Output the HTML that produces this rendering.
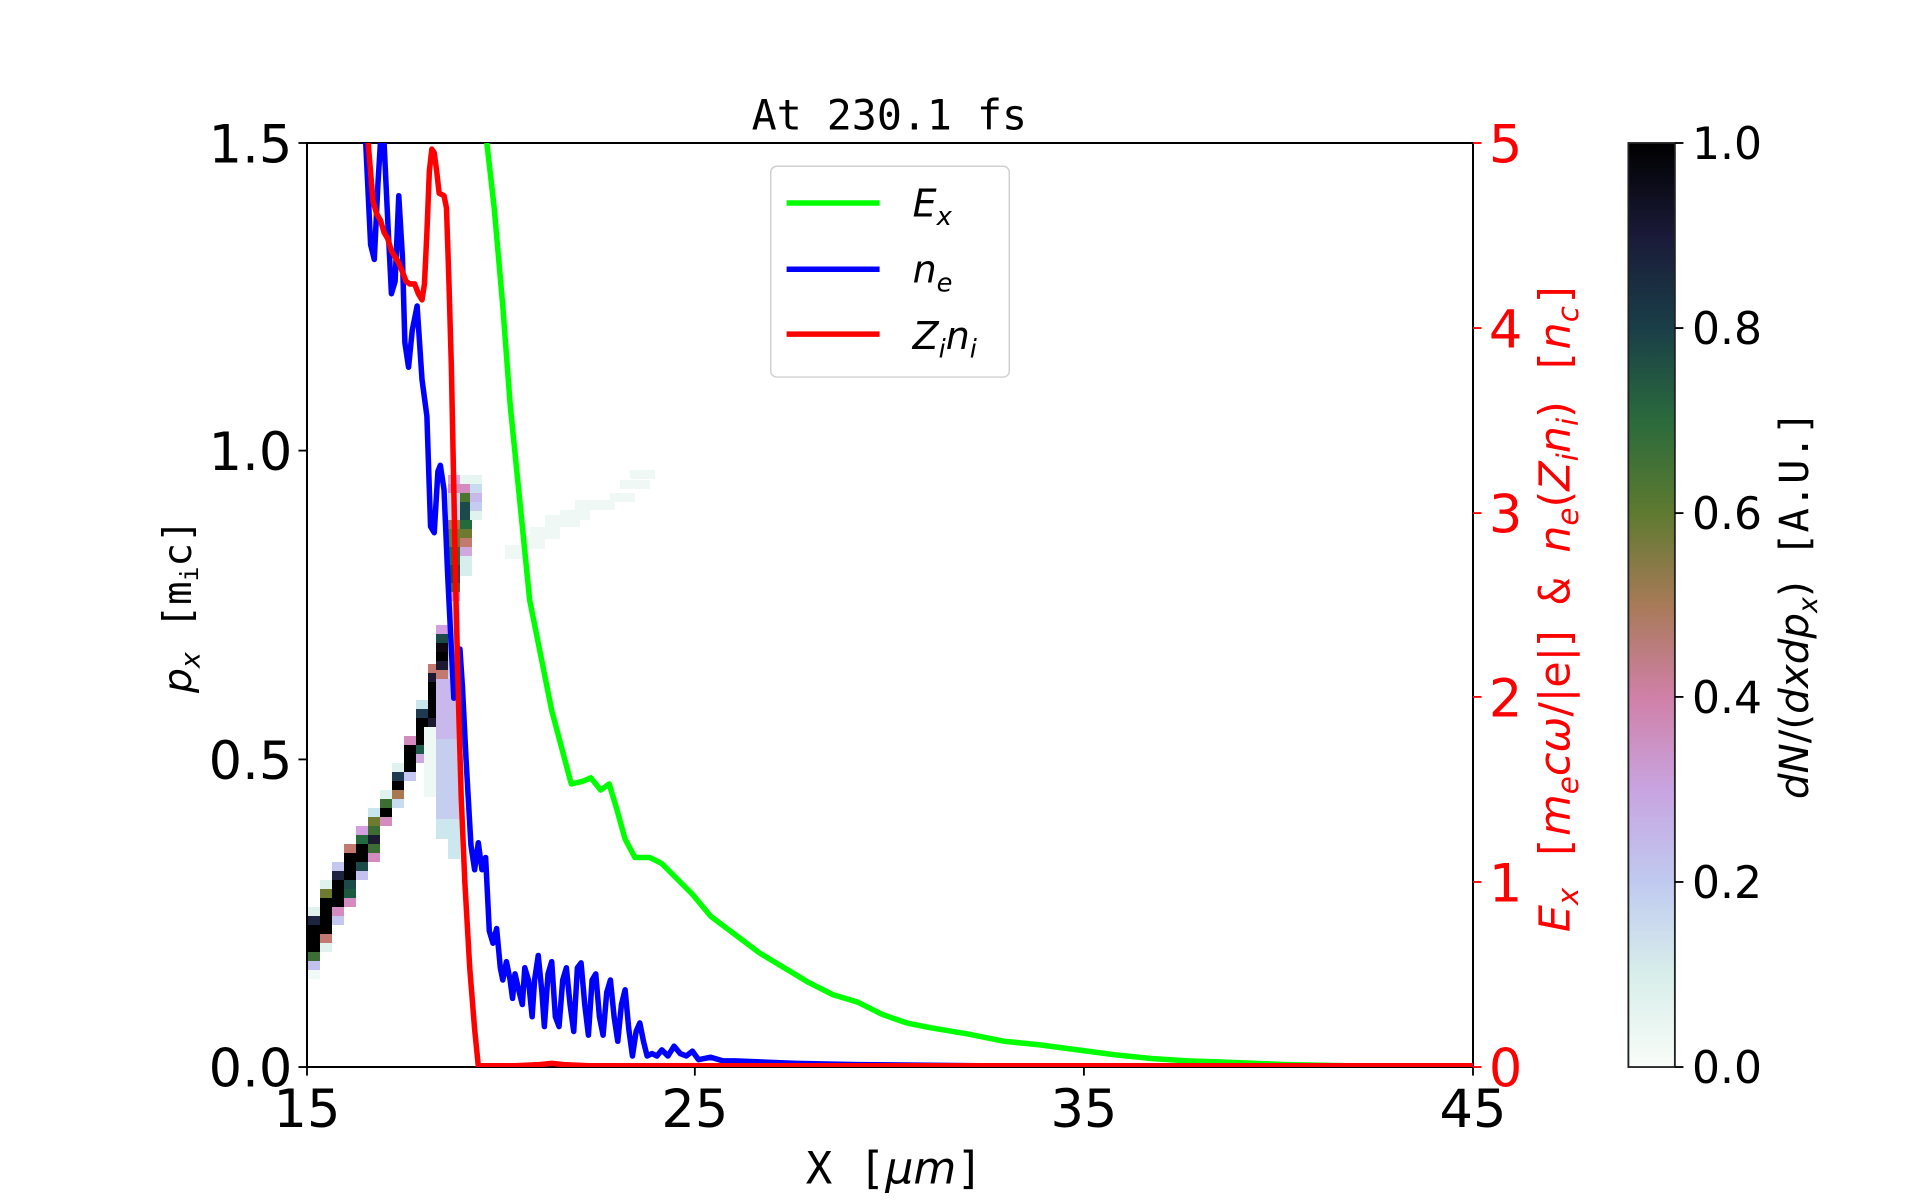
<!DOCTYPE html>
<html><head><meta charset="utf-8"><style>
html,body{margin:0;padding:0;background:#fff;}
svg{display:block;}
text{font-family:"DejaVu Sans","Liberation Sans",sans-serif;}
.m{font-family:"DejaVu Sans Mono","Liberation Mono",monospace;}
</style></head><body>
<svg width="1920" height="1200" viewBox="0 0 1920 1200" xmlns="http://www.w3.org/2000/svg">
<defs>
<linearGradient id="cb" x1="0" y1="1" x2="0" y2="0">
<stop offset="0" stop-color="#f8fcf8"/>
<stop offset="0.1" stop-color="#d8eeea"/>
<stop offset="0.2" stop-color="#c0caf0"/>
<stop offset="0.3" stop-color="#c8a4e0"/>
<stop offset="0.4" stop-color="#d080a8"/>
<stop offset="0.5" stop-color="#a87a58"/>
<stop offset="0.6" stop-color="#5e7a30"/>
<stop offset="0.7" stop-color="#2a6a3c"/>
<stop offset="0.8" stop-color="#1a3e48"/>
<stop offset="0.9" stop-color="#1a1a38"/>
<stop offset="1" stop-color="#000000"/>
</linearGradient>
<clipPath id="pc"><rect x="307" y="143" width="1166" height="924"/></clipPath>
</defs>

<g clip-path="url(#pc)">
<g>
<rect x="308" y="907" width="12" height="9" fill="#e0f2ee"/><rect x="308" y="916" width="12" height="9" fill="#1c2440"/><rect x="308" y="925" width="12" height="27" fill="#000"/><rect x="308" y="952" width="12" height="9" fill="#3a6e34"/><rect x="308" y="961" width="12" height="9" fill="#c4c0f0"/><rect x="308" y="970" width="12" height="9" fill="#f2faf8"/>
<rect x="320" y="880" width="12" height="9" fill="#e0f2ee"/><rect x="320" y="889" width="12" height="9" fill="#6e7a30"/><rect x="320" y="898" width="12" height="36" fill="#000"/><rect x="320" y="934" width="12" height="9" fill="#c27a70"/><rect x="320" y="943" width="12" height="9" fill="#e0f2ee"/>
<rect x="332" y="862" width="12" height="9" fill="#c4c8f0"/><rect x="332" y="871" width="12" height="9" fill="#1c2440"/><rect x="332" y="880" width="12" height="27" fill="#000"/><rect x="332" y="907" width="12" height="9" fill="#d48cc0"/><rect x="332" y="916" width="12" height="9" fill="#c4c8f0"/>
<rect x="344" y="844" width="12" height="9" fill="#c27a70"/><rect x="344" y="853" width="12" height="27" fill="#000"/><rect x="344" y="880" width="12" height="9" fill="#1c4a48"/><rect x="344" y="889" width="12" height="9" fill="#1c5a40"/><rect x="344" y="898" width="12" height="9" fill="#d48cc0"/>
<rect x="356" y="826" width="12" height="9" fill="#d4a0e0"/><rect x="356" y="835" width="12" height="9" fill="#246a3c"/><rect x="356" y="844" width="12" height="18" fill="#000"/><rect x="356" y="862" width="12" height="9" fill="#1c4a48"/><rect x="356" y="871" width="12" height="9" fill="#c4c0f0"/>
<rect x="368" y="808" width="12" height="9" fill="#c8e6ee"/><rect x="368" y="817" width="12" height="9" fill="#6e7a30"/><rect x="368" y="826" width="12" height="9" fill="#3a6e34"/><rect x="368" y="835" width="12" height="9" fill="#1c1a30"/><rect x="368" y="844" width="12" height="9" fill="#3a6e34"/><rect x="368" y="853" width="12" height="9" fill="#d48cc0"/>
<rect x="380" y="790" width="12" height="9" fill="#e0f2ee"/><rect x="380" y="799" width="12" height="9" fill="#3a6e34"/><rect x="380" y="808" width="12" height="9" fill="#000"/><rect x="380" y="817" width="12" height="9" fill="#d48cc0"/>
<rect x="392" y="763" width="12" height="9" fill="#e0f2ee"/><rect x="392" y="772" width="12" height="9" fill="#1c3a50"/><rect x="392" y="781" width="12" height="9" fill="#000"/><rect x="392" y="790" width="12" height="9" fill="#a87850"/><rect x="392" y="799" width="12" height="9" fill="#c8dcf0"/>
<rect x="404" y="736" width="12" height="9" fill="#d48cc0"/><rect x="404" y="745" width="12" height="27" fill="#000"/><rect x="404" y="772" width="12" height="9" fill="#c4c8f0"/>
<rect x="416" y="700" width="12" height="9" fill="#c8e6ee"/><rect x="416" y="709" width="12" height="9" fill="#1c3a50"/><rect x="416" y="718" width="12" height="27" fill="#000"/><rect x="416" y="745" width="12" height="9" fill="#1c5a48"/><rect x="416" y="754" width="12" height="9" fill="#d0a8e0"/>
<rect x="428" y="664" width="12" height="9" fill="#c27a70"/><rect x="428" y="673" width="12" height="9" fill="#1c1a30"/><rect x="428" y="682" width="12" height="36" fill="#000"/><rect x="428" y="718" width="12" height="9" fill="#1c1a30"/><rect x="428" y="727" width="12" height="9" fill="#c8e6ee"/>
<rect x="436" y="625" width="12" height="9" fill="#d4a0e0"/><rect x="436" y="634" width="12" height="9" fill="#1c4a48"/><rect x="436" y="643" width="12" height="9" fill="#100810"/><rect x="436" y="652" width="12" height="9" fill="#000"/><rect x="436" y="661" width="12" height="9" fill="#1c1a30"/><rect x="436" y="670" width="12" height="9" fill="#c27a70"/>
<rect x="436" y="679" width="24" height="60" fill="#c8b8ec"/><rect x="436" y="739" width="24" height="80" fill="#c6cef0"/><rect x="436" y="819" width="24" height="20" fill="#cce8ee"/><rect x="448" y="839" width="12" height="20" fill="#cce8ee"/><rect x="424" y="727" width="12" height="70" fill="#eef8f4"/>
<rect x="448" y="475" width="12" height="9" fill="#d8a8e0"/><rect x="448" y="484" width="12" height="9" fill="#d48cc0"/><rect x="448" y="520" width="12" height="9" fill="#a87850"/><rect x="448" y="529" width="12" height="18" fill="#6e7a30"/><rect x="448" y="547" width="12" height="18" fill="#246a3c"/><rect x="448" y="565" width="12" height="18" fill="#1c4a48"/><rect x="448" y="583" width="12" height="9" fill="#3a6e34"/><rect x="448" y="592" width="12" height="9" fill="#d48cc0"/><rect x="448" y="601" width="12" height="78" fill="#c8d4f0"/><rect x="448" y="493" width="12" height="27" fill="#c8dcf0"/>
<rect x="460" y="475" width="12" height="9" fill="#e8f6f2"/><rect x="460" y="484" width="12" height="9" fill="#d48cc0"/><rect x="460" y="493" width="12" height="9" fill="#4a7430"/><rect x="460" y="502" width="12" height="18" fill="#1c4a48"/><rect x="460" y="520" width="12" height="9" fill="#246a3c"/><rect x="460" y="529" width="12" height="9" fill="#6e7a30"/><rect x="460" y="538" width="12" height="9" fill="#c27a70"/><rect x="460" y="547" width="12" height="9" fill="#d0a8e0"/><rect x="460" y="556" width="12" height="20" fill="#d8eeee"/>
<rect x="470" y="475" width="12" height="9" fill="#e6f4f2"/><rect x="470" y="484" width="12" height="9" fill="#c8dcf0"/><rect x="470" y="493" width="12" height="9" fill="#c8b8ec"/><rect x="470" y="502" width="12" height="9" fill="#c4ccf0"/><rect x="470" y="511" width="12" height="9" fill="#e2f2ee"/>
</g>
<g fill="#edf7f3" opacity="0.8">
<rect x="505" y="545" width="20" height="14"/><rect x="525" y="535" width="20" height="14"/><rect x="530" y="527" width="30" height="12"/><rect x="545" y="515" width="35" height="12"/><rect x="560" y="510" width="30" height="10"/><rect x="575" y="500" width="30" height="10"/><rect x="590" y="500" width="25" height="10"/><rect x="610" y="493" width="25" height="9"/><rect x="620" y="480" width="30" height="9"/><rect x="630" y="470" width="25" height="9"/>
</g>
</g>

<rect x="307" y="143" width="1166" height="924" fill="none" stroke="#000" stroke-width="2"/>

<g transform="translate(307,143) scale(1.2235,1.2255) translate(-250,-117)">
<svg x="250" y="117" width="953" height="754" viewBox="250 117 953 754" overflow="hidden">
<polyline fill="none" stroke="#00ff00" stroke-width="4.5" stroke-linejoin="round" points="397,117 403,170 410,250 416,330 421,380 426,430 432,490 440,530 450,580 458,610 466,640 475,638 482,635 490,645 497,640 503,660 510,685 518,700 530,700 540,705 550,715 565,730 580,748 600,763 620,778 640,790 660,802 680,812 700,818 720,828 740,835 760,839 790,844 820,850 850,853 880,857 910,861 940,864 970,866 1000,867 1050,869 1100,870 1150,871 1203,871"/>
<polyline fill="none" stroke="#0000ff" stroke-width="4.5" stroke-linejoin="round" points="298,117 302,200 305,212 308,150 310,117 313,117 316,180 319,240 322,230 325,160 328,210 330,280 333,300 336,270 340,250 344,310 348,340 351,430 354,435 357,385 359,380 362,400 365,470 368,530 370,570 372,555 375,530 377,560 380,620 384,690 387,710 390,688 393,710 396,700 399,760 402,770 405,758 408,790 410,800 413,785 416,800 418,815 420,795 423,808 426,820 428,790 431,800 434,830 436,800 439,780 442,810 444,838 447,795 450,785 453,830 456,838 459,800 462,790 465,820 468,842 471,790 474,786 477,820 480,845 483,800 486,795 489,830 492,845 495,810 498,800 501,830 504,850 507,820 510,808 513,840 516,862 519,842 522,835 525,850 528,862 532,860 536,862 540,857 545,862 550,854 555,860 560,862 565,858 570,865 580,863 590,866 600,866 650,868 700,869 800,870 900,870 1203,871"/>
<polyline fill="none" stroke="#ff0000" stroke-width="4.5" stroke-linejoin="round" points="300,117 304,165 307,175 310,180 313,190 316,195 319,205 322,210 325,215 328,222 331,230 334,232 338,232 341,240 344,245 346,232 348,190 350,140 352,122 354,125 356,140 358,158 362,160 364,170 366,230 368,300 370,400 372,500 374,580 376,650 379,720 383,790 387,840 390,870 420,870 440,869 450,868 460,869 480,870 1203,870"/>
</svg>

<g stroke="#000" stroke-width="1.5">
<line x1="243" y1="117" x2="250" y2="117"/><line x1="243" y1="368" x2="250" y2="368"/><line x1="243" y1="620" x2="250" y2="620"/><line x1="243" y1="871" x2="250" y2="871"/>
<line x1="250" y1="871" x2="250" y2="878"/><line x1="567" y1="871" x2="567" y2="878"/><line x1="885" y1="871" x2="885" y2="878"/><line x1="1203" y1="871" x2="1203" y2="878"/>
</g>
<g font-size="43" text-anchor="end" fill="#000">
<text x="238" y="133">1.5</text><text x="238" y="384">1.0</text><text x="238" y="636">0.5</text><text x="238" y="887">0.0</text>
</g>
<g font-size="43" text-anchor="middle" fill="#000">
<text x="250" y="920">15</text><text x="567" y="920">25</text><text x="885" y="920">35</text><text x="1203" y="920">45</text>
</g>
<g stroke="#ff0000" stroke-width="1.5">
<line x1="1203" y1="117" x2="1210" y2="117"/><line x1="1203" y1="268" x2="1210" y2="268"/><line x1="1203" y1="419" x2="1210" y2="419"/><line x1="1203" y1="569" x2="1210" y2="569"/><line x1="1203" y1="720" x2="1210" y2="720"/><line x1="1203" y1="871" x2="1210" y2="871"/>
</g>
<g font-size="43" fill="#ff0000">
<text x="1216" y="133">5</text><text x="1216" y="284">4</text><text x="1216" y="435">3</text><text x="1216" y="585">2</text><text x="1216" y="736">1</text><text x="1216" y="887">0</text>
</g>
<text class="m" x="726" y="106" font-size="34" text-anchor="middle">At 230.1 fs</text>
<text x="730" y="966" font-size="36" text-anchor="middle" class="m">X [<tspan font-style="italic" font-family="DejaVu Sans">μm</tspan>]</text>
<text transform="translate(155,495) rotate(-90)" font-size="32" text-anchor="middle"><tspan font-style="italic">p</tspan><tspan font-size="22" dy="7" font-style="italic">x</tspan><tspan dy="-7" class="m"> [m</tspan><tspan font-size="20" dy="6" class="m">i</tspan><tspan dy="-6" class="m">c]</tspan></text>
<text transform="translate(1282,495) rotate(-90)" font-size="35" text-anchor="middle" fill="#ff0000"><tspan font-style="italic">E</tspan><tspan font-size="24" dy="7" font-style="italic">x</tspan><tspan dy="-7" class="m"> [</tspan><tspan font-style="italic">m</tspan><tspan font-size="24" dy="7" font-style="italic">e</tspan><tspan dy="-7" font-style="italic">cω</tspan><tspan>/|e|]</tspan><tspan class="m"> &amp; </tspan><tspan font-style="italic">n</tspan><tspan font-size="24" dy="7" font-style="italic">e</tspan><tspan dy="-7">(</tspan><tspan font-style="italic">Z</tspan><tspan font-size="24" dy="7" font-style="italic">i</tspan><tspan dy="-7" font-style="italic">n</tspan><tspan font-size="24" dy="7" font-style="italic">i</tspan><tspan dy="-7">)</tspan><tspan class="m"> [</tspan><tspan font-style="italic">n</tspan><tspan font-size="24" dy="7" font-style="italic">c</tspan><tspan dy="-7" class="m">]</tspan></text>

<rect x="629" y="136" width="195" height="172" rx="5" fill="#fff" fill-opacity="0.8" stroke="#d0d0d0" stroke-width="1.2"/>
<line x1="642" y1="166" x2="718" y2="166" stroke="#00ff00" stroke-width="4.5"/>
<line x1="642" y1="220" x2="718" y2="220" stroke="#0000ff" stroke-width="4.5"/>
<line x1="642" y1="273" x2="718" y2="273" stroke="#ff0000" stroke-width="4.5"/>
<g font-size="31" font-style="italic">
<text x="745" y="177">E<tspan font-size="21" dy="7">x</tspan></text>
<text x="745" y="231">n<tspan font-size="21" dy="7">e</tspan></text>
<text x="745" y="285">Z<tspan font-size="21" dy="7">i</tspan><tspan dy="-7">n</tspan><tspan font-size="21" dy="7">i</tspan></text>
</g>

<rect x="1330" y="117" width="38" height="754" fill="url(#cb)" stroke="#222" stroke-width="1.5"/>
<g stroke="#000" stroke-width="1.5">
<line x1="1368" y1="117" x2="1375" y2="117"/><line x1="1368" y1="268" x2="1375" y2="268"/><line x1="1368" y1="419" x2="1375" y2="419"/><line x1="1368" y1="569" x2="1375" y2="569"/><line x1="1368" y1="720" x2="1375" y2="720"/><line x1="1368" y1="871" x2="1375" y2="871"/>
</g>
<g font-size="36" fill="#000">
<text x="1382" y="130">1.0</text><text x="1382" y="281">0.8</text><text x="1382" y="432">0.6</text><text x="1382" y="582">0.4</text><text x="1382" y="733">0.2</text><text x="1382" y="884">0.0</text>
</g>
<text transform="translate(1477,494) rotate(-90)" font-size="33" text-anchor="middle"><tspan font-style="italic">dN</tspan>/(<tspan font-style="italic">dxdp</tspan><tspan font-size="22" dy="7" font-style="italic">x</tspan><tspan dy="-7">)</tspan><tspan class="m"> [A.U.]</tspan></text>
</g>
</svg>
</body></html>
